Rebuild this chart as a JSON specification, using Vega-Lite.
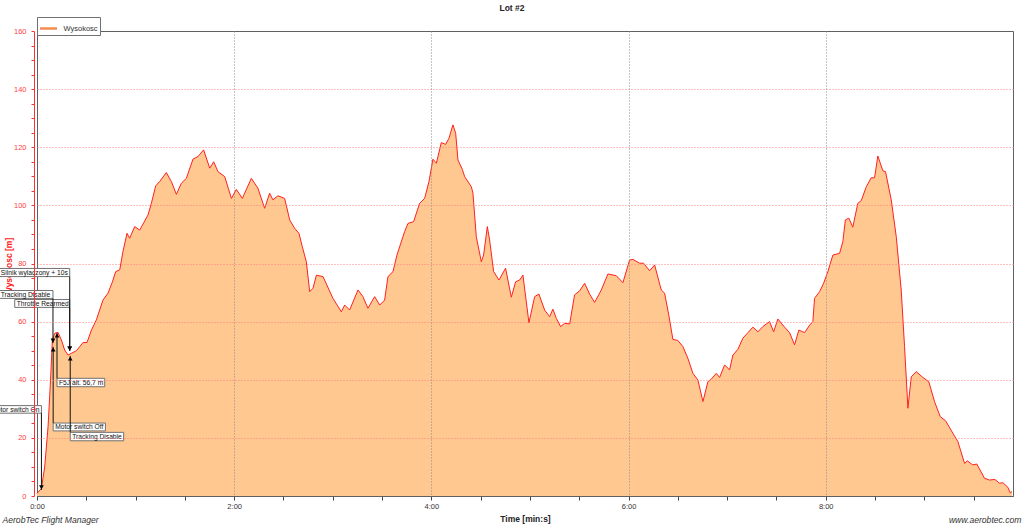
{
  "$schema": "https://vega.github.io/schema/vega-lite/v6.json",
  "width": 976,
  "height": 465,
  "autosize": {"type": "none"},
  "padding": {"left": 37, "top": 31, "right": 11, "bottom": 30},
  "background": "white",
  "config": {"font": "Liberation Sans", "view": {"stroke": "#606060", "strokeWidth": 1}},
  "title": {"text": "Lot #2", "fontSize": 8.5, "fontWeight": "bold", "color": "#222", "anchor": "middle", "dx": -13, "offset": 4},
  "datasets": {
    "alt": [
      {"t": 0, "h": 0.9}, {"t": 0.045, "h": 2.6}, {"t": 0.078, "h": 10}, {"t": 0.112, "h": 23.8}, {"t": 0.136, "h": 38.9},
      {"t": 0.156, "h": 53.7}, {"t": 0.18, "h": 56}, {"t": 0.213, "h": 56.3}, {"t": 0.247, "h": 53.7}, {"t": 0.281, "h": 50.2},
      {"t": 0.315, "h": 48.5}, {"t": 0.349, "h": 49.1}, {"t": 0.4, "h": 50}, {"t": 0.433, "h": 51.4}, {"t": 0.467, "h": 52.8},
      {"t": 0.507, "h": 52.8}, {"t": 0.552, "h": 57.1}, {"t": 0.602, "h": 60.6}, {"t": 0.669, "h": 67.4}, {"t": 0.72, "h": 69.8},
      {"t": 0.765, "h": 73.7}, {"t": 0.798, "h": 77.2}, {"t": 0.839, "h": 77.8}, {"t": 0.872, "h": 84.1}, {"t": 0.913, "h": 90.4},
      {"t": 0.94, "h": 88.7}, {"t": 0.991, "h": 92.7}, {"t": 1.042, "h": 91.5}, {"t": 1.126, "h": 96.7}, {"t": 1.16, "h": 100.7},
      {"t": 1.204, "h": 106.7}, {"t": 1.244, "h": 108.2}, {"t": 1.312, "h": 111.3}, {"t": 1.363, "h": 108.2}, {"t": 1.414, "h": 103.8},
      {"t": 1.464, "h": 107.6}, {"t": 1.515, "h": 109.3}, {"t": 1.582, "h": 115.9}, {"t": 1.633, "h": 116.8}, {"t": 1.69, "h": 119.1},
      {"t": 1.752, "h": 112.8}, {"t": 1.792, "h": 115}, {"t": 1.836, "h": 111.6}, {"t": 1.904, "h": 109.9}, {"t": 1.972, "h": 102.4},
      {"t": 2.022, "h": 105.5}, {"t": 2.083, "h": 102.4}, {"t": 2.174, "h": 109.3}, {"t": 2.241, "h": 105.9}, {"t": 2.309, "h": 99},
      {"t": 2.36, "h": 104.2}, {"t": 2.393, "h": 101.9}, {"t": 2.444, "h": 103.3}, {"t": 2.512, "h": 102.4}, {"t": 2.563, "h": 95},
      {"t": 2.614, "h": 92.1}, {"t": 2.657, "h": 90.4}, {"t": 2.691, "h": 85.8}, {"t": 2.732, "h": 80.6}, {"t": 2.766, "h": 70.3},
      {"t": 2.8, "h": 71.5}, {"t": 2.834, "h": 76}, {"t": 2.901, "h": 75.5}, {"t": 3.002, "h": 68}, {"t": 3.087, "h": 63.4},
      {"t": 3.121, "h": 65.7}, {"t": 3.171, "h": 64}, {"t": 3.256, "h": 70.9}, {"t": 3.306, "h": 68.6}, {"t": 3.357, "h": 64.6},
      {"t": 3.425, "h": 68.6}, {"t": 3.476, "h": 65.7}, {"t": 3.526, "h": 67.4}, {"t": 3.56, "h": 75.5}, {"t": 3.611, "h": 77.2},
      {"t": 3.651, "h": 82.9}, {"t": 3.729, "h": 91}, {"t": 3.763, "h": 93.8}, {"t": 3.82, "h": 94.4}, {"t": 3.881, "h": 100.7},
      {"t": 3.932, "h": 102.4}, {"t": 3.976, "h": 108.2}, {"t": 4.016, "h": 115.9}, {"t": 4.051, "h": 114.5}, {"t": 4.101, "h": 121.6},
      {"t": 4.145, "h": 121}, {"t": 4.179, "h": 123.1}, {"t": 4.219, "h": 127.7}, {"t": 4.247, "h": 124.8}, {"t": 4.27, "h": 115.6},
      {"t": 4.314, "h": 112.4}, {"t": 4.338, "h": 109.9}, {"t": 4.406, "h": 106.4}, {"t": 4.422, "h": 104.2}, {"t": 4.456, "h": 89.2},
      {"t": 4.507, "h": 80.6}, {"t": 4.53, "h": 82.9}, {"t": 4.568, "h": 92.7}, {"t": 4.591, "h": 88.1}, {"t": 4.632, "h": 77.2},
      {"t": 4.686, "h": 74.3}, {"t": 4.753, "h": 78.4}, {"t": 4.811, "h": 68.4}, {"t": 4.855, "h": 73.7}, {"t": 4.895, "h": 74.3},
      {"t": 4.929, "h": 76}, {"t": 4.99, "h": 59.6}, {"t": 5.048, "h": 68.6}, {"t": 5.091, "h": 69.5}, {"t": 5.149, "h": 64},
      {"t": 5.2, "h": 61.7}, {"t": 5.233, "h": 64.3}, {"t": 5.268, "h": 61.1}, {"t": 5.311, "h": 58.3}, {"t": 5.352, "h": 59.4},
      {"t": 5.403, "h": 59.2}, {"t": 5.453, "h": 69.2}, {"t": 5.504, "h": 70.6}, {"t": 5.555, "h": 73.2}, {"t": 5.605, "h": 69.5},
      {"t": 5.656, "h": 66.6}, {"t": 5.724, "h": 70.9}, {"t": 5.791, "h": 76.4}, {"t": 5.876, "h": 75.8}, {"t": 5.943, "h": 73.4},
      {"t": 6.011, "h": 81.2}, {"t": 6.045, "h": 81.4}, {"t": 6.113, "h": 80.1}, {"t": 6.153, "h": 80.1}, {"t": 6.214, "h": 77.5},
      {"t": 6.265, "h": 79.5}, {"t": 6.332, "h": 70.9}, {"t": 6.366, "h": 69.8}, {"t": 6.41, "h": 62}, {"t": 6.45, "h": 53.9},
      {"t": 6.501, "h": 53.5}, {"t": 6.552, "h": 51.4}, {"t": 6.602, "h": 47.4}, {"t": 6.653, "h": 42.2}, {"t": 6.704, "h": 39.9},
      {"t": 6.755, "h": 32.5}, {"t": 6.805, "h": 39.3}, {"t": 6.839, "h": 40.2}, {"t": 6.89, "h": 42.2}, {"t": 6.924, "h": 40.8},
      {"t": 6.975, "h": 45.1}, {"t": 7.025, "h": 43.4}, {"t": 7.059, "h": 48.5}, {"t": 7.11, "h": 50.5}, {"t": 7.16, "h": 54.3},
      {"t": 7.211, "h": 56.2}, {"t": 7.262, "h": 58.1}, {"t": 7.313, "h": 56.5}, {"t": 7.363, "h": 58.3}, {"t": 7.431, "h": 60},
      {"t": 7.472, "h": 56.5}, {"t": 7.515, "h": 60.9}, {"t": 7.583, "h": 58.1}, {"t": 7.634, "h": 56.2}, {"t": 7.684, "h": 52},
      {"t": 7.728, "h": 57.1}, {"t": 7.786, "h": 56.2}, {"t": 7.837, "h": 58.8}, {"t": 7.87, "h": 60}, {"t": 7.887, "h": 68},
      {"t": 7.938, "h": 70.3}, {"t": 7.979, "h": 73.2}, {"t": 8.022, "h": 77.2}, {"t": 8.073, "h": 82.9}, {"t": 8.141, "h": 83.5},
      {"t": 8.174, "h": 87.5}, {"t": 8.2, "h": 95}, {"t": 8.235, "h": 95.6}, {"t": 8.275, "h": 92.5}, {"t": 8.326, "h": 100.7},
      {"t": 8.36, "h": 101.6}, {"t": 8.412, "h": 106.4}, {"t": 8.462, "h": 109.5}, {"t": 8.496, "h": 109.5}, {"t": 8.529, "h": 117},
      {"t": 8.58, "h": 111.9}, {"t": 8.607, "h": 111.6}, {"t": 8.665, "h": 101.9}, {"t": 8.716, "h": 89.2}, {"t": 8.766, "h": 70.9},
      {"t": 8.8, "h": 51.4}, {"t": 8.834, "h": 30.2}, {"t": 8.868, "h": 41}, {"t": 8.918, "h": 42.8}, {"t": 8.986, "h": 40.8},
      {"t": 9.046, "h": 39.3}, {"t": 9.104, "h": 32.5}, {"t": 9.162, "h": 27.3}, {"t": 9.216, "h": 25.9}, {"t": 9.29, "h": 21.6},
      {"t": 9.341, "h": 18.7}, {"t": 9.409, "h": 11.2}, {"t": 9.436, "h": 12.1}, {"t": 9.493, "h": 10.7}, {"t": 9.533, "h": 11},
      {"t": 9.611, "h": 6.1}, {"t": 9.662, "h": 5.5}, {"t": 9.716, "h": 5.7}, {"t": 9.763, "h": 4.4}, {"t": 9.797, "h": 4.6},
      {"t": 9.848, "h": 3}, {"t": 9.872, "h": 1.1}, {"t": 9.89, "h": 1.5}
    ],
    "ann": [
      {"label": "Motor switch On", "lx": -0.485, "rx": 0.045, "by": 28.5, "ty": 31.1, "lt": 0.045, "lv": 28.5, "tv": 2.1, "dir": "down"},
      {"label": "Tracking Disable", "lx": -0.388, "rx": 0.162, "by": 68.0, "ty": 70.7, "lt": 0.162, "lv": 68.0, "tv": 52.6, "dir": "down"},
      {"label": "Throttle Rearmed", "lx": -0.226, "rx": 0.332, "by": 64.9, "ty": 67.6, "lt": 0.332, "lv": 64.9, "tv": 49.9, "dir": "down"},
      {"label": "Silnik wylaczony + 10s", "lx": -0.388, "rx": 0.332, "by": 75.5, "ty": 78.3, "lt": 0.332, "lv": 75.5, "tv": 49.9, "dir": "down"},
      {"label": "F5J alt. 56,7 m", "lx": 0.203, "rx": 0.687, "by": 37.6, "ty": 40.5, "lt": 0.203, "lv": 40.5, "tv": 56.1, "dir": "up"},
      {"label": "Motor switch Off", "lx": 0.164, "rx": 0.694, "by": 22.4, "ty": 25.1, "lt": 0.164, "lv": 25.1, "tv": 51.3, "dir": "up"},
      {"label": "Tracking Disable", "lx": 0.337, "rx": 0.879, "by": 19.0, "ty": 21.9, "lt": 0.337, "lv": 21.9, "tv": 48.2, "dir": "up"}
    ]
  },
  "resolve": {"axis": {"x": "independent", "y": "independent"}},
  "layer": [
    {
      "data": {"name": "alt"},
      "mark": {"type": "area", "opacity": 1},
      "encoding": {
        "x": {"field": "t", "type": "quantitative", "scale": {"domain": [0, 9.9], "nice": false, "zero": false},
          "axis": {"orient": "bottom", "values": [0, 0.5, 1, 1.5, 2, 2.5, 3, 3.5, 4, 4.5, 5, 5.5, 6, 6.5, 7, 7.5, 8, 8.5, 9, 9.5],
            "labelExpr": "datum.value % 2 === 0 ? floor(datum.value) + ':00' : ''", "labelOverlap": false, "labelFlush": false, "labelBound": false,
            "labelFontSize": 7.5, "labelColor": "#333", "labelPadding": 2, "tickSize": 4, "tickColor": "#444", "domainColor": "#606060",
            "grid": true, "gridColor": "#8a8a8a", "gridDash": [1, 2],
            "gridOpacity": {"condition": {"test": "datum.value % 2 === 0 && datum.value > 0", "value": 1}, "value": 0},
            "title": "Time [min:s]", "titleFontSize": 8.5, "titleFontWeight": "bold", "titleColor": "#222", "titleY": 25, "titleBaseline": "alphabetic", "zindex": 1}},
        "y": {"field": "h", "type": "quantitative", "scale": {"domain": [0, 160], "nice": false},
          "axis": {"orient": "left", "values": [0, 5, 10, 15, 20, 25, 30, 35, 40, 45, 50, 55, 60, 65, 70, 75, 80, 85, 90, 95, 100, 105, 110, 115, 120, 125, 130, 135, 140, 145, 150, 155, 160],
            "labelExpr": "datum.value % 20 === 0 ? datum.value : ''", "labelOverlap": false, "labelBound": false, "labelFlush": false,
            "offset": 3, "domainColor": "#FF3030", "tickColor": "#FF3030", "tickSize": 3, "labelColor": "#FF4040", "labelFontSize": 7.5, "labelPadding": 5,
            "grid": true, "gridColor": "#FF8080", "gridDash": [1, 2],
            "gridOpacity": {"condition": {"test": "datum.value % 20 === 0 && datum.value > 0 && datum.value < 160", "value": 1}, "value": 0},
            "title": "www.aerobtec.com", "titleAngle": 0, "titleAlign": "right", "titleBaseline": "alphabetic", "titleX": 987, "titleY": 491,
            "titleFontStyle": "italic", "titleFontWeight": "normal", "titleFontSize": 8.6, "titleColor": "#333", "zindex": 1}},
        "color": {"datum": "Wysokosc", "scale": {"range": ["#FFC890"]},
          "legend": {"orient": "none", "legendX": 0, "legendY": -14, "title": null, "symbolType": "stroke", "symbolStrokeColor": "#F58C50",
            "symbolStrokeWidth": 2.5, "symbolSize": 289, "labelFontSize": 7.5, "labelColor": "#333", "strokeColor": "#707070", "fillColor": "white",
            "padding": 1.5, "labelOffset": 5}}
      }
    },
    {
      "data": {"name": "alt"},
      "mark": {"type": "line", "color": "#FF2020", "strokeWidth": 1},
      "encoding": {
        "x": {"field": "t", "type": "quantitative", "scale": {"domain": [0, 9.9], "nice": false, "zero": false},
          "axis": {"orient": "top", "labels": false, "ticks": false, "domain": false, "grid": false, "title": "AerobTec Flight Manager",
            "titleX": -35, "titleY": 491, "titleAlign": "left", "titleBaseline": "alphabetic", "titleFontStyle": "italic", "titleFontWeight": "normal",
            "titleFontSize": 8.6, "titleColor": "#333"}},
        "y": {"field": "h", "type": "quantitative", "scale": {"domain": [0, 160], "nice": false},
          "axis": {"orient": "left", "labels": false, "ticks": false, "domain": false, "grid": false, "title": "Wysokosc [m]",
            "titleX": -29, "titleY": 235, "titleAngle": -90, "titleAlign": "center", "titleBaseline": "middle", "titleColor": "#FF2020",
            "titleFontWeight": "bold", "titleFontSize": 8.5}}
      }
    },
    {
      "data": {"name": "ann"},
      "mark": {"type": "rect", "fill": "white", "stroke": "#707070", "strokeWidth": 1},
      "encoding": {
        "x": {"field": "lx", "type": "quantitative", "axis": null}, "x2": {"field": "rx"},
        "y": {"field": "by", "type": "quantitative", "axis": null}, "y2": {"field": "ty"}
      }
    },
    {
      "data": {"name": "ann"},
      "mark": {"type": "rule", "color": "#111", "strokeWidth": 1},
      "encoding": {
        "x": {"field": "lt", "type": "quantitative", "axis": null},
        "y": {"field": "lv", "type": "quantitative", "axis": null}, "y2": {"field": "tv"}
      }
    },
    {
      "data": {"name": "ann"},
      "transform": [{"filter": "datum.dir === 'down'"}],
      "mark": {"type": "point", "shape": "triangle-down", "filled": true, "color": "#000", "opacity": 1, "size": 22, "yOffset": -2.5},
      "encoding": {
        "x": {"field": "lt", "type": "quantitative", "axis": null},
        "y": {"field": "tv", "type": "quantitative", "axis": null}
      }
    },
    {
      "data": {"name": "ann"},
      "transform": [{"filter": "datum.dir === 'up'"}],
      "mark": {"type": "point", "shape": "triangle-up", "filled": true, "color": "#000", "opacity": 1, "size": 22, "yOffset": 2.5},
      "encoding": {
        "x": {"field": "lt", "type": "quantitative", "axis": null},
        "y": {"field": "tv", "type": "quantitative", "axis": null}
      }
    },
    {
      "data": {"name": "ann"},
      "mark": {"type": "text", "align": "left", "baseline": "bottom", "dx": 2, "dy": -0.5, "fontSize": 6.7, "color": "#111"},
      "encoding": {
        "x": {"field": "lx", "type": "quantitative", "axis": null},
        "y": {"field": "by", "type": "quantitative", "axis": null},
        "text": {"field": "label"}
      }
    }
  ]
}
